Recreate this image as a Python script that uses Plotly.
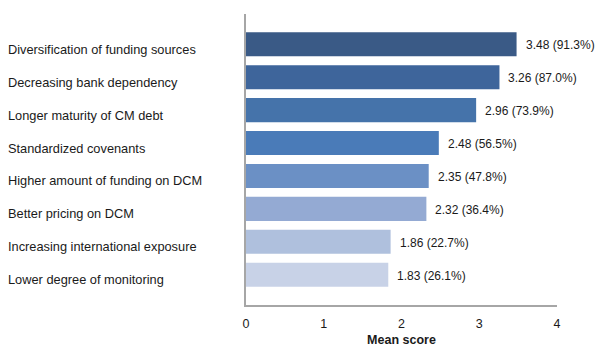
import plotly.graph_objects as go

categories = [
    "Diversification of funding sources",
    "Decreasing bank dependency",
    "Longer maturity of CM debt",
    "Standardized covenants",
    "Higher amount of funding on DCM",
    "Better pricing on DCM",
    "Increasing international exposure",
    "Lower degree of monitoring",
]
mean_scores = [3.48, 3.26, 2.96, 2.48, 2.35, 2.32, 1.86, 1.83]
percentages = [91.3, 87.0, 73.9, 56.5, 47.8, 36.4, 22.7, 26.1]
colors = ["#3A5A86", "#3E659B", "#4573AA", "#4A7BB8", "#6B90C5", "#94AAD3", "#AFC0DD", "#C8D2E7"]
x_ticks = [0, 1, 2, 3, 4]

font = "Liberation Sans, Arial, sans-serif"

fig = go.Figure()
fig.add_trace(go.Bar(
    x=mean_scores,
    y=categories,
    orientation="h",
    marker=dict(color=colors, line=dict(width=0)),
    width=0.73,
    hoverinfo="skip",
))

annotations = []
for c, v, p in zip(categories, mean_scores, percentages):
    annotations.append(dict(
        x=v, y=c, xref="x", yref="y",
        text=f"{v:.2f} ({p:.1f}%)",
        showarrow=False, xanchor="left", yanchor="middle",
        xshift=7, yshift=-1,
        font=dict(family=font, size=12, color="#1a1a1a"),
    ))
    annotations.append(dict(
        x=-0.772, y=c, xref="paper", yref="y",
        text=c,
        showarrow=False, xanchor="left", yanchor="middle",
        yshift=-5,
        font=dict(family=font, size=12.8, color="#1a1a1a"),
    ))

fig.update_layout(
    width=595, height=347,
    margin=dict(l=246, r=38, t=14, b=42, autoexpand=False),
    paper_bgcolor="white", plot_bgcolor="white",
    showlegend=False,
    annotations=annotations,
    xaxis=dict(
        range=[0, 4], tickvals=x_ticks, automargin=False,
        showgrid=False, zeroline=False,
        showline=True, linecolor="#A6A6A6", linewidth=1.5,
        ticks="", ticklabelstandoff=6,
        tickfont=dict(family=font, size=12.5, color="#1a1a1a"),
        title=dict(text="<b>Mean score</b>", font=dict(family=font, size=12.5, color="#1a1a1a"), standoff=5),
    ),
    yaxis=dict(
        categoryorder="array", categoryarray=categories,
        range=[7.92, -0.92], automargin=False,
        showgrid=False, zeroline=False,
        showline=True, linecolor="#A6A6A6", linewidth=1.5,
        showticklabels=False, ticks="",
    ),
)

fig.write_html("out.html")
